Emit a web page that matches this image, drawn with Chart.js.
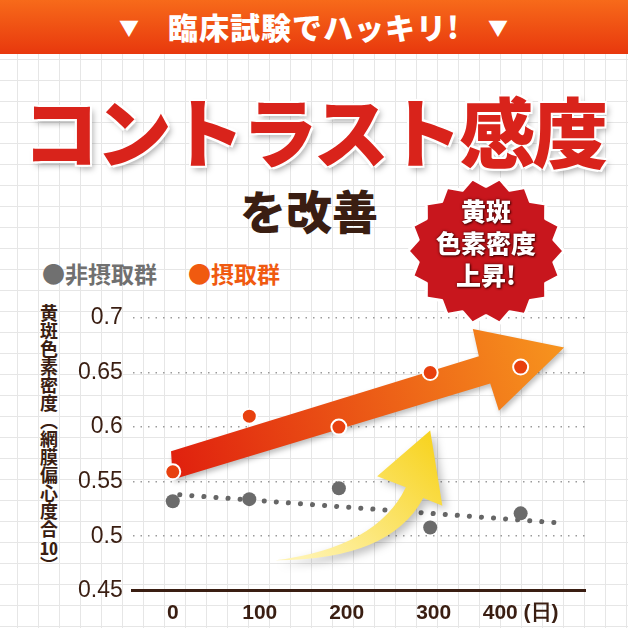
<!DOCTYPE html>
<html><head><meta charset="utf-8">
<script src="https://cdn.jsdelivr.net/npm/chart.js@4"></script>
<style>
html,body{margin:0;padding:0;width:628px;height:628px;overflow:hidden;font-family:"Noto Sans CJK JP",sans-serif;}
body{background-color:#fff;background-image:linear-gradient(#e6e6e6 1px,transparent 1px),linear-gradient(90deg,#e6e6e6 1px,transparent 1px);background-size:21px 21px;background-position:-4px -4px;position:relative;}
#hdr{position:absolute;left:0;top:0;width:628px;height:54px;background:linear-gradient(#f76a1a,#e8380d);color:#fff;font-weight:900;font-size:30px;text-align:center;line-height:52px;letter-spacing:1px;}
#hdr span{font-size:20px;margin:0 28px;vertical-align:3px}
#ttl{position:absolute;left:0;width:628px;top:74px;text-align:center;font-weight:900;font-size:76px;color:#d9231b;letter-spacing:-3px;text-shadow:0 0 4px #fff,2px 2px 0 #fff,-2px -2px 0 #fff,2px -2px 0 #fff,-2px 2px 0 #fff,3px 4px 6px rgba(0,0,0,.35);}
#sub{position:absolute;left:240px;top:176px;font-weight:900;font-size:46px;color:#3a1e12;}
#leg{position:absolute;left:42px;top:256px;font-weight:700;font-size:23px;}
#ytitle{position:absolute;left:38px;top:304px;writing-mode:vertical-rl;font-weight:700;font-size:18px;color:#3a1e12;line-height:22px;letter-spacing:0}
#ytitle .tcy{text-combine-upright:all}
#badge{position:absolute;left:405px;top:175px;width:162px;height:152px;}
#btxt{position:absolute;left:405px;top:194px;width:162px;text-align:center;color:#fff;font-weight:900;font-size:25px;line-height:32px;text-shadow:0 0 3px #4a0000,1px 1px 2px #4a0000;}
canvas{position:absolute;left:0;top:0}
</style></head><body>
<div id="hdr"><span>▼</span>臨床試験でハッキリ!<span>▼</span></div>
<div id="ttl">コントラスト感度</div>
<div id="sub">を改善</div>
<div id="leg"><span style="color:#707070">●</span><span style="color:#707070">非摂取群</span>　<span style="color:#f05a10;margin-left:8px">●</span><span style="color:#f05a10">摂取群</span></div>
<div id="ytitle">黄斑色素密度（網膜偏心度合<span class="tcy">10</span>）</div>
<div id="cw" style="position:absolute;left:0;top:0;width:628px;height:628px"><canvas id="c"></canvas></div>
<svg id="badge" viewBox="0 0 160 150"><polygon id="star" fill="#c8161d" stroke="#fff" stroke-width="3" stroke-linejoin="round"/></svg>
<div id="btxt">黄斑<br>色素密度<br>上昇!</div>
<script>
const days=[0,88,191,296,400];
const tickDays=[0,100,200,300,400];
const intakeVals=[0.559,0.610,0.600,0.650,0.655];
const nonIntakeVals=[0.532,0.534,0.544,0.508,0.521];
const trendX=[8,448];
const trendY=[0.538,0.512];
const yTicks=[0.45,0.5,0.55,0.6,0.65,0.7];

(function(){let p=[],n=18;for(let i=0;i<n*2;i++){const a=i*Math.PI/n,r=i%2?68:77;p.push((80+r*Math.cos(a)).toFixed(1)+','+(75+r*0.94*Math.sin(a)).toFixed(1));}document.getElementById('star').setAttribute('points',p.join(' '));})();

const pts=(xs,ys)=>xs.map((x,i)=>({x:x,y:ys[i]}));
const arrows={id:'arrows',afterDatasetDraw(chart,args){
  if(args.index!==1)return;
  const c=chart.ctx,xs=chart.scales.x,ys=chart.scales.y;
  const X=v=>xs.getPixelForValue(v),Y=v=>ys.getPixelForValue(v);
  c.save();
  let g=c.createLinearGradient(X(150),Y(0.48),X(300),Y(0.6));
  g.addColorStop(0,'#fff3b0');g.addColorStop(1,'#f7d21a');
  c.shadowColor='rgba(0,0,0,0.25)';c.shadowBlur=8;c.shadowOffsetX=4;c.shadowOffsetY=4;
  c.fillStyle=g;c.beginPath();
  c.moveTo(X(118),Y(0.478));
  c.quadraticCurveTo(X(235),Y(0.49),X(268),Y(0.545));
  c.lineTo(X(235),Y(0.555));
  c.lineTo(X(296),Y(0.597));
  c.lineTo(X(310),Y(0.528));
  c.lineTo(X(288),Y(0.535));
  c.quadraticCurveTo(X(250),Y(0.478),X(118),Y(0.478));
  c.fill();
  g=c.createLinearGradient(X(0),Y(0.56),X(450),Y(0.67));
  g.addColorStop(0,'#e0200e');g.addColorStop(1,'#f7941e');
  c.fillStyle=g;c.shadowBlur=5;c.shadowOffsetX=2;c.shadowOffsetY=3;
  c.beginPath();
  c.moveTo(X(-2),Y(0.578));c.lineTo(X(352),Y(0.665));c.lineTo(X(345),Y(0.690));
  c.lineTo(X(450),Y(0.673));c.lineTo(X(375),Y(0.615));c.lineTo(X(365),Y(0.640));
  c.lineTo(X(0),Y(0.552));c.closePath();c.fill();
  c.restore();
}};
new Chart(document.getElementById('c'),{
  type:'scatter',
  data:{datasets:[
    {data:pts(trendX,trendY),showLine:true,borderColor:'#666',borderWidth:5,borderDash:[0.1,12],borderCapStyle:'round',pointRadius:0,order:2},
    {data:pts(days,nonIntakeVals),backgroundColor:'#6b6b6b',borderWidth:0,pointRadius:7,order:1},
    {data:pts(days,intakeVals),backgroundColor:'#e8400e',borderColor:'#fff',borderWidth:2,pointRadius:7.5,order:0}
  ]},
  plugins:[arrows],
  options:{responsive:true,maintainAspectRatio:false,animation:false,
    layout:{padding:{left:68,right:43,top:318,bottom:0}},
    plugins:{legend:{display:false},tooltip:{enabled:false}},
    scales:{
      x:{type:'linear',min:-46,max:474,afterBuildTicks:a=>{a.ticks=tickDays.map(v=>({value:v}))},
        grid:{display:false},border:{display:true,color:'#3a1e12',width:3},
        ticks:{color:'#3a1e12',font:{size:21,weight:'bold',family:'Liberation Sans'},padding:2,maxRotation:0,
          callback:v=>v===400?'400 (日)':String(v)}},
      y:{min:0.45,max:0.7,afterBuildTicks:a=>{a.ticks=yTicks.map(v=>({value:v}))},
        grid:{color:'#9a9a9a',lineWidth:1.5,drawTicks:false},border:{display:false,dash:[1.5,6]},
        ticks:{color:'#3a1e12',font:{size:23,family:'Liberation Sans'},padding:10,callback:v=>String(v)}}
    }}
});
</script></body></html>
